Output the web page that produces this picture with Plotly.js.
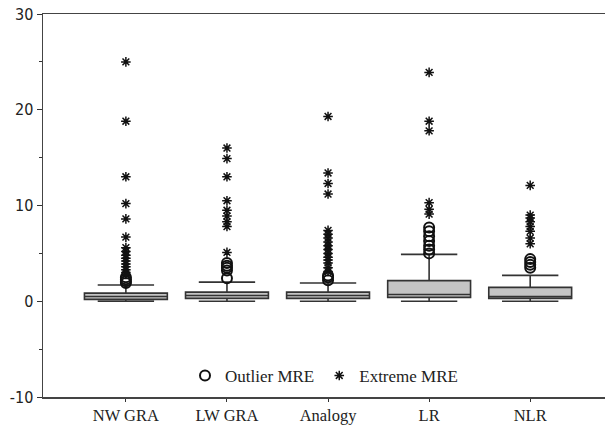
<!DOCTYPE html>
<html>
<head>
<meta charset="utf-8">
<script src="https://cdn.plot.ly/plotly-3.0.1.min.js"></script>
<style>html,body{margin:0;padding:0;background:#fff;}#chart{width:605px;height:429px;}</style>
</head>
<body>
<div id="chart"></div>
<script>
// Categories and box statistics (MRE)
const categories = ["NW GRA", "LW GRA", "Analogy", "LR", "NLR"];
const q1Values     = [0.2, 0.3, 0.3, 0.4, 0.3];
const medianValues = [0.5, 0.6, 0.6, 0.7, 0.5];
const q3Values     = [0.85, 0.95, 0.95, 2.15, 1.45];
const lowerFence   = [0.0, 0.0, 0.0, 0.0, 0.0];
const upperFence   = [1.7, 2.0, 1.9, 4.9, 2.7];

// Y tick labels
const yTickValues = [-10, 0, 10, 20, 30];
const yTickLabels = ["-10", "0", "10", "20", "30"];

// Outlier MRE (circles) per category
const outliersNWGRA   = [1.9, 2.1, 2.3, 2.5];
const outliersLWGRA   = [2.4, 3.2, 3.5, 3.7, 4.0];
const outliersAnalogy = [2.2, 2.5, 2.7];
const outliersLR      = [5.0, 5.4, 5.8, 6.3, 6.8, 7.3, 7.7];
const outliersNLR     = [3.5, 3.8, 4.1, 4.4];

// Extreme MRE (asterisks) per category
const extremesNWGRA   = [25.0, 18.8, 13.0, 10.2, 8.6, 6.7, 5.6, 5.2, 4.8, 4.5, 4.2, 3.9, 3.6, 3.3, 3.0, 2.8];
const extremesLWGRA   = [16.0, 14.9, 13.0, 10.5, 9.5, 8.9, 8.3, 7.8, 5.1];
const extremesAnalogy = [19.3, 13.4, 12.3, 11.2, 7.4, 7.0, 6.6, 6.2, 5.8, 5.4, 5.0, 4.6, 4.3, 4.0, 3.5, 3.1];
const extremesLR      = [23.9, 18.8, 17.8, 10.3, 9.6, 9.1];
const extremesNLR     = [12.1, 9.0, 8.7, 8.3, 7.8, 7.3, 6.6, 6.0];

const outlierSets = [outliersNWGRA, outliersLWGRA, outliersAnalogy, outliersLR, outliersNLR];
const extremeSets = [extremesNWGRA, extremesLWGRA, extremesAnalogy, extremesLR, extremesNLR];

function flatten(sets) {
  const xs = [], ys = [];
  sets.forEach((arr, i) => arr.forEach(v => { xs.push(i); ys.push(v); }));
  return {xs, ys};
}
const out = flatten(outlierSets);
const ext = flatten(extremeSets);
const idx = categories.map((c, i) => i);

const SERIF = "Liberation Serif, Times New Roman, serif";

const traces = [
  {
    type: "box",
    x: idx,
    q1: q1Values, median: medianValues, q3: q3Values,
    lowerfence: lowerFence, upperfence: upperFence,
    boxpoints: false,
    width: 0.82,
    whiskerwidth: 0.68,
    fillcolor: "#c4c4c4",
    line: {color: "#333333", width: 1.6},
    showlegend: false,
    hoverinfo: "skip"
  },
  {
    type: "scatter", mode: "markers",
    x: out.xs, y: out.ys,
    name: "Outlier MRE",
    marker: {symbol: "circle-open", size: 10, color: "#111", line: {width: 2, color: "#111"}}
  },
  {
    type: "scatter", mode: "markers",
    x: ext.xs, y: ext.ys,
    name: "Extreme MRE",
    marker: {symbol: "asterisk-open", size: 8, color: "#111", line: {width: 1.5, color: "#111"}}
  }
];

const layout = {
  width: 605, height: 429,
  margin: {l: 43, r: 0, t: 14, b: 32},
  paper_bgcolor: "#fff", plot_bgcolor: "#fff",
  font: {family: SERIF},
  showlegend: true,
  legend: {
    orientation: "h", x: 0.5, xanchor: "center", y: 0.055, yanchor: "middle",
    font: {family: SERIF, size: 17, color: "#222"},
    bgcolor: "rgba(0,0,0,0)", itemwidth: 30
  },
  xaxis: {
    range: [-0.82, 4.74],
    tickvals: idx, ticktext: categories,
    ticks: "outside", ticklen: 3, tickcolor: "#333",
    showline: true, linecolor: "#444", linewidth: 1.5, mirror: true,
    showgrid: false, zeroline: false,
    tickfont: {family: SERIF, size: 16.5, color: "#222"}
  },
  yaxis: {
    range: [-10, 30],
    tickvals: yTickValues, ticktext: yTickLabels,
    ticks: "outside", ticklen: 5, tickcolor: "#333",
    minor: {dtick: 5, ticks: "outside", ticklen: 3, tickcolor: "#333", showgrid: false},
    showline: true, linecolor: "#444", linewidth: 1.5,
    showgrid: false, zeroline: false,
    tickfont: {family: "DejaVu Sans Condensed, Liberation Sans, sans-serif", size: 16, color: "#222"}
  }
};

Plotly.newPlot("chart", traces, layout, {staticPlot: true, displayModeBar: false});
</script>
</body>
</html>
